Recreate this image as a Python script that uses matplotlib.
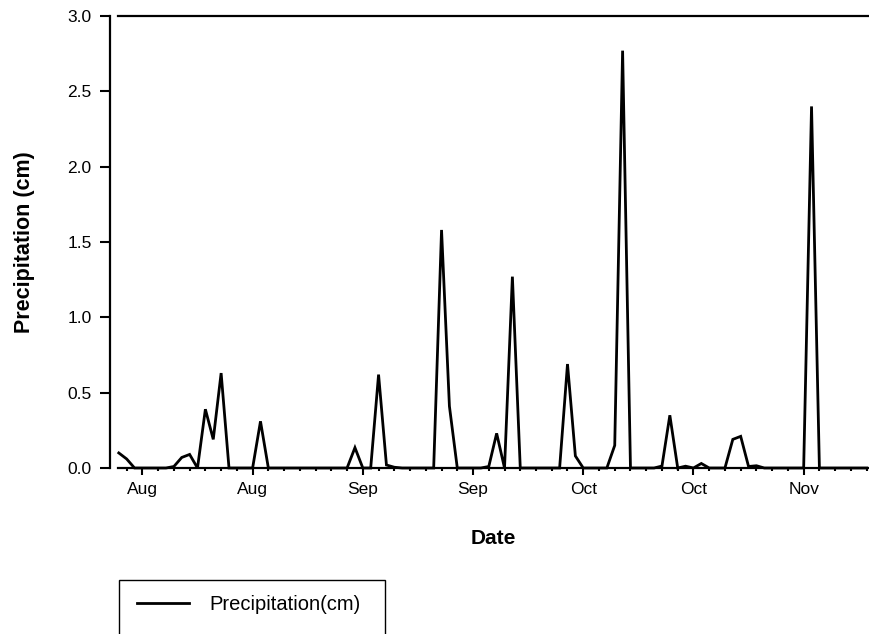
import matplotlib
matplotlib.use("Agg")
import matplotlib.pyplot as plt
import matplotlib.dates as mdates
from matplotlib.patches import Rectangle
import pandas as pd

# ---- data ----
start_date = "2001-08-07"
precip_cm = [
    0.10, 0.06, 0.00, 0.00, 0.00, 0.00, 0.00, 0.01, 0.07, 0.09,   # 0-9
    0.00, 0.39, 0.19, 0.63, 0.00, 0.00, 0.00, 0.00, 0.31, 0.00,   # 10-19
    0.00, 0.00, 0.00, 0.00, 0.00, 0.00, 0.00, 0.00, 0.00, 0.00,   # 20-29
    0.135, 0.00, 0.00, 0.62, 0.02, 0.005, 0.00, 0.00, 0.00, 0.00, # 30-39
    0.00, 1.58, 0.41, 0.00, 0.00, 0.00, 0.00, 0.01, 0.23, 0.00,   # 40-49
    1.27, 0.00, 0.00, 0.00, 0.00, 0.00, 0.00, 0.69, 0.08, 0.00,   # 50-59
    0.00, 0.00, 0.00, 0.15, 2.77, 0.00, 0.00, 0.00, 0.00, 0.013,  # 60-69
    0.35, 0.00, 0.012, 0.00, 0.03, 0.00, 0.00, 0.00, 0.19, 0.21,  # 70-79
    0.01, 0.015, 0.00, 0.00, 0.00, 0.00, 0.00, 0.00, 2.40, 0.00,  # 80-89
    0.00, 0.00, 0.00, 0.00, 0.00, 0.00,                           # 90-95
]
dates = pd.date_range(start_date, periods=len(precip_cm), freq="D")
y_ticks = [0.0, 0.5, 1.0, 1.5, 2.0, 2.5, 3.0]
series_label = "Precipitation(cm)"
x_label = "Date"
y_label = "Precipitation (cm)"

plt.rcParams["font.family"] = ["Liberation Sans", "DejaVu Sans"]

W, H = 869, 634
fig = plt.figure(figsize=(W / 100, H / 100), dpi=100)
ax = fig.add_axes([118 / W, 1 - 468 / H, (W - 118) / W, (468 - 16) / H])

line, = ax.plot(dates, precip_cm, color="black", lw=2.0, solid_joinstyle="miter",
                clip_on=False, zorder=3)

ax.set_ylim(0, 3.0)
ax.set_xlim(dates[0] - pd.Timedelta(hours=2.4), dates[0] + pd.Timedelta(days=95.3))

# spines
ax.spines["right"].set_visible(False)
for s in ("left", "bottom", "top"):
    ax.spines[s].set_linewidth(1.6)
ax.spines["left"].set_position(("outward", 6))
ax.spines["left"].set_bounds(0, 3.0)

# y axis
ax.set_yticks(y_ticks)
ax.set_yticklabels([f"{v:.1f}" for v in y_ticks])
ax.tick_params(axis="y", direction="out", length=7, width=1.5, pad=6, labelsize=12.5)

# x axis
ax.set_xticks(dates[3::14])
ax.set_xticks(dates[1::2], minor=True)
ax.xaxis.set_major_formatter(mdates.DateFormatter("%b"))
ax.tick_params(axis="x", which="major", direction="out", length=5, width=1.5, pad=5, labelsize=12.5)
ax.tick_params(axis="x", which="minor", direction="out", length=2.5, width=1.5)

ax.set_xlabel(x_label, fontsize=15, fontweight="bold", labelpad=23)
ax.set_ylabel(y_label, fontsize=15.5, fontweight="bold", labelpad=23)

# legend box (extends beyond bottom of figure)
fig.patches.append(Rectangle((119 / W, -0.1), (385 - 119) / W, 0.1 + (1 - 580 / H),
                             transform=fig.transFigure, fill=False, edgecolor="black",
                             lw=1.0, clip_on=False))
fig.legend([line], [series_label], loc="center left",
           bbox_to_anchor=(137 / W, 1 - 604 / H), frameon=False, fontsize=14.5,
           handlelength=2.6, handletextpad=1.0, borderaxespad=0, borderpad=0,
           handleheight=0.5)

fig.savefig("out.png", dpi=100)
